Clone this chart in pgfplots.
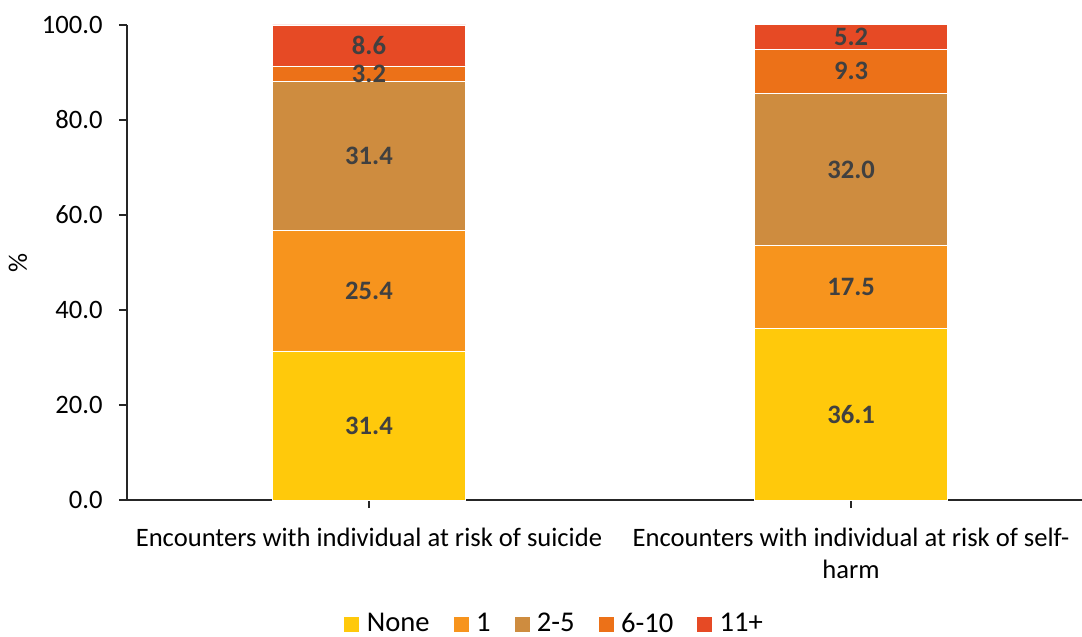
\documentclass[border=0pt]{standalone}
\usepackage{pgfplots}
\pgfplotsset{compat=1.18}
\usepackage{pgfplotstable}
\usepackage{fontspec}
\setmainfont{Carlito}
\definecolor{cNone}{HTML}{FFC90B}
\definecolor{cOne}{HTML}{F7941D}
\definecolor{cTwo}{HTML}{CE8C3F}
\definecolor{cSix}{HTML}{EC7118}
\definecolor{cEleven}{HTML}{E64A25}
\definecolor{lab}{HTML}{404040}
\pgfplotstableread{
x none one twofive sixten elevenplus
0 31.4 25.4 31.4 3.2 8.6
1 36.1 17.5 32.0 9.3 5.2
}\data
\begin{document}
\begin{tikzpicture}
\path[use as bounding box] (-63.5pt,-68.5pt) rectangle (477.5pt,250pt);
\begin{axis}[
  at={(0,0)}, anchor=south west,
  scale only axis,
  width=477.5pt, height=237.5pt,
  ybar stacked,
  bar width=96.5pt,
  xmin=-0.502, xmax=1.479,
  ymin=0, ymax=100,
  ytick={0,20,40,60,80,100},
  xtick={0,1},
  xticklabels={{Encounters with individual at risk of suicide},{Encounters with individual at risk of self-\\harm}},
  axis lines*=left,
  axis line style={line width=0.8pt, black!85},
  tick style={line width=0.8pt, black!85},
  tick align=outside,
  major tick length=4pt,
  font=\fontsize{13.3}{16}\selectfont,
  /pgf/number format/assume math mode=true,
  yticklabel style={/pgf/number format/fixed, /pgf/number format/fixed zerofill, /pgf/number format/precision=1, inner sep=0pt, xshift=-8pt},
  xticklabel style={align=center, inner sep=0pt, yshift=-10pt},
  ylabel={\%},
  ylabel style={at={(axis description cs:-0.1141,0.5)}, anchor=center},
  legend columns=5,
  legend style={draw=none, at={(axis description cs:0.2262,-0.261)}, anchor=west, inner sep=0pt,
    font=\fontsize{14.3}{16}\selectfont,
    /tikz/every even column/.append style={column sep=11.5pt}, nodes={inner sep=0pt}},
  legend image code/.code={\fill[#1] (0pt,-4pt) rectangle (8pt,4pt); \path (11.5pt,0pt);},
  enlargelimits=false,
  clip=false,
  nodes near coords,
  nodes near coords style={font=\fontsize{13.3}{16}\selectfont\bfseries, text=lab, anchor=center,
    /pgf/number format/fixed, /pgf/number format/fixed zerofill, /pgf/number format/precision=1},
]
\addplot[fill=cNone, draw=white, line width=0.2pt] table[x=x,y=none]{\data};
\addplot[fill=cOne, draw=white, line width=0.2pt] table[x=x,y=one]{\data};
\addplot[fill=cTwo, draw=white, line width=0.2pt] table[x=x,y=twofive]{\data};
\addplot[fill=cSix, draw=white, line width=0.2pt] table[x=x,y=sixten]{\data};
\addplot[fill=cEleven, draw=white, line width=0.2pt] table[x=x,y=elevenplus]{\data};
\legend{None,1,2-5,6-10,11+}
\end{axis}
\end{tikzpicture}
\end{document}
